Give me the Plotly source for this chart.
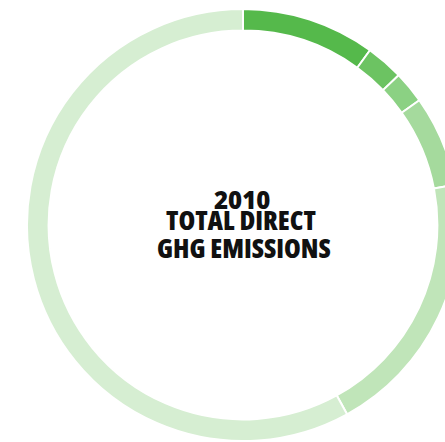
import plotly.graph_objects as go

# Data (share of total direct GHG emissions, read from the ring)
categories = ["Segment A", "Segment B", "Segment C", "Segment D", "Segment E", "Segment F"]
values = [10.0, 2.8, 2.4, 6.8, 20.0, 58.0]
colors = ["#55b94b", "#6cc362", "#8bd183", "#a5da9d", "#c0e5b9", "#d6eed2"]
title_lines = ["2010", "TOTAL DIRECT", "GHG EMISSIONS"]

W, H = 470, 442
cx, cy, R = 243, 225, 216


def px(x):
    return x / W


def py(y):
    return 1 - y / H


fig = go.Figure(
    go.Pie(
        labels=categories,
        values=values,
        sort=False,
        direction="clockwise",
        rotation=0,
        hole=0.9,
        marker=dict(colors=colors, line=dict(color="white", width=2)),
        textinfo="none",
        hoverinfo="label+percent",
        showlegend=False,
        domain=dict(x=[px(cx - R), px(cx + R)], y=[py(cy + R), py(cy - R)]),
    )
)

cond = "<span style='font-stretch:77%'>{}</span>"
fig.add_annotation(text=title_lines[0], x=px(241.5), y=py(199.5),
                   xref="paper", yref="paper", showarrow=False,
                   xanchor="center", yanchor="middle",
                   font=dict(family="Open Sans", size=24, weight=800, color="#111111"))
fig.add_annotation(text=cond.format(title_lines[1]),
                   x=px(240.5), y=py(219.5),
                   xref="paper", yref="paper", showarrow=False,
                   xanchor="center", yanchor="middle",
                   font=dict(family="Open Sans", size=27, weight=800, color="#111111"))
fig.add_annotation(text=cond.format(title_lines[2]),
                   x=px(244), y=py(247.5),
                   xref="paper", yref="paper", showarrow=False,
                   xanchor="center", yanchor="middle",
                   font=dict(family="Open Sans", size=27, weight=800, color="#111111"))

fig.update_layout(
    width=W, height=H,
    margin=dict(l=0, r=0, t=0, b=0),
    paper_bgcolor="white", plot_bgcolor="white",
)

fig.write_html(
    "out.html",
    config={"displayModeBar": False},
    post_script="document.body.style.margin='0';document.body.style.overflow='hidden';"
                "document.documentElement.style.overflow='hidden';",
)
